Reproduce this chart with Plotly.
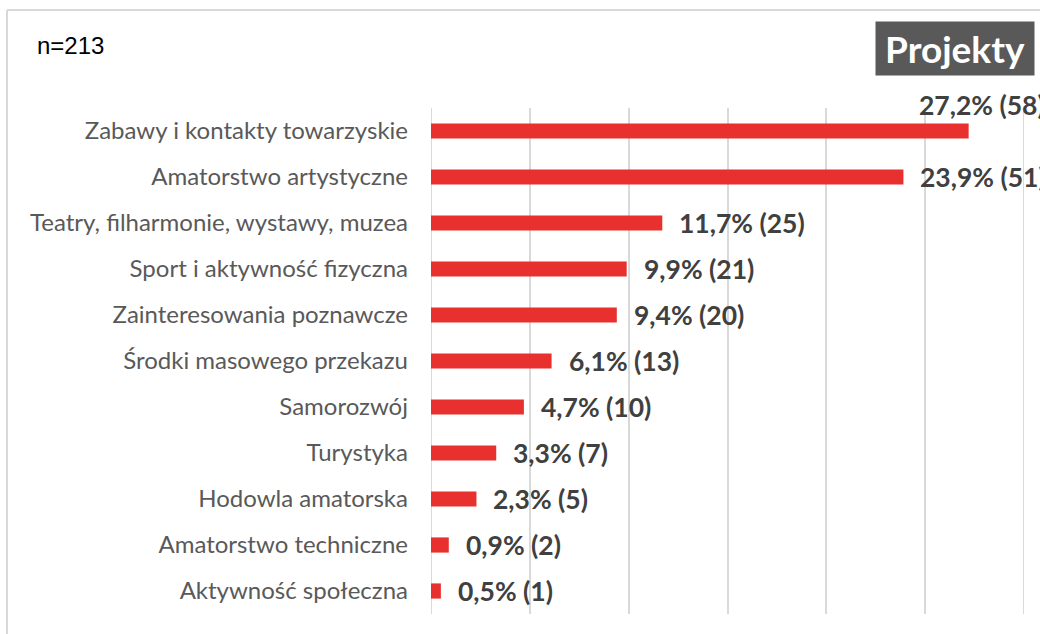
import plotly.graph_objects as go

categories = [
    "Zabawy i kontakty towarzyskie",
    "Amatorstwo artystyczne",
    "Teatry, filharmonie, wystawy, muzea",
    "Sport i aktywność fizyczna",
    "Zainteresowania poznawcze",
    "Środki masowego przekazu",
    "Samorozwój",
    "Turystyka",
    "Hodowla amatorska",
    "Amatorstwo techniczne",
    "Aktywność społeczna",
]
percent = [27.2, 23.9, 11.7, 9.9, 9.4, 6.1, 4.7, 3.3, 2.3, 0.9, 0.5]
counts = [58, 51, 25, 21, 20, 13, 10, 7, 5, 2, 1]
x_ticks = [0, 5, 10, 15, 20, 25, 30]

W, H = 1040, 634
L, R, T, B = 431, 16, 108, 20
pw, ph = W - L - R, H - T - B

def px2paper_x(px):
    return (px - L) / pw

def px2paper_y(py):
    return 1 - (py - T) / ph

fig = go.Figure(go.Bar(
    x=percent, y=categories, orientation="h",
    marker=dict(color="#E8302F", line=dict(width=0)),
    hoverinfo="skip",
))

annotations = []
for i, (p, c, cat) in enumerate(zip(percent, counts, categories)):
    label = f"{p:.1f}".replace(".", ",") + f"% ({c})"
    xs, ys = 15, 0
    if i == 0:
        xs, ys = -52, 26
    annotations.append(dict(
        x=p, y=cat, xref="x", yref="y", text=label, showarrow=False,
        xanchor="left", yanchor="middle", xshift=xs, yshift=ys,
        font=dict(family="Lato", size=26.5, color="#404040", weight="bold"),
    ))

annotations.append(dict(
    x=px2paper_x(35), y=px2paper_y(45), xref="paper", yref="paper",
    text="n=213", showarrow=False, xanchor="left", yanchor="middle",
    font=dict(family="Liberation Sans", size=24, color="#000000"),
))
annotations.append(dict(
    x=px2paper_x(1035), y=px2paper_y(48.5), xref="paper", yref="paper",
    text="<b>Projekty</b>", showarrow=False, xanchor="right", yanchor="middle",
    bgcolor="#595959", borderpad=3, width=152, height=47, align="center",
    font=dict(family="Lato", size=37, color="#FFFFFF"),
))

shapes = [
    dict(type="line", xref="paper", yref="paper",
         x0=px2paper_x(7), x1=px2paper_x(1045), y0=px2paper_y(10), y1=px2paper_y(10),
         line=dict(color="#D9D9D9", width=2)),
    dict(type="line", xref="paper", yref="paper",
         x0=px2paper_x(7), x1=px2paper_x(7), y0=px2paper_y(10), y1=px2paper_y(640),
         line=dict(color="#D9D9D9", width=2)),
]
for xv in (x_ticks[0], x_ticks[-1]):
    shapes.append(dict(type="line", xref="x", yref="paper", x0=xv, x1=xv,
                       y0=0, y1=1, layer="below",
                       line=dict(color="#D9D9D9", width=2)))

fig.update_layout(
    width=W, height=H,
    margin=dict(l=L, r=R, t=T, b=B, pad=0),
    paper_bgcolor="white", plot_bgcolor="white",
    bargap=0.67,
    showlegend=False,
    annotations=annotations,
    shapes=shapes,
    xaxis=dict(range=[0, 30], tickvals=x_ticks, showticklabels=False,
               showgrid=True, gridcolor="#D9D9D9", gridwidth=2,
               zeroline=False, showline=False, fixedrange=True),
    yaxis=dict(autorange="reversed", showgrid=False, zeroline=False,
               showline=False, ticks="", ticklabelstandoff=22,
               tickfont=dict(family="Lato", size=24, color="#595959"),
               fixedrange=True),
)

fig.write_html("out.html", config={"displayModeBar": False})

with open("out.html", "r", encoding="utf-8") as f:
    html = f.read()
html = html.replace("<head>", "<head><style>html,body{margin:0;padding:0;overflow:hidden;}</style>", 1)
with open("out.html", "w", encoding="utf-8") as f:
    f.write(html)
